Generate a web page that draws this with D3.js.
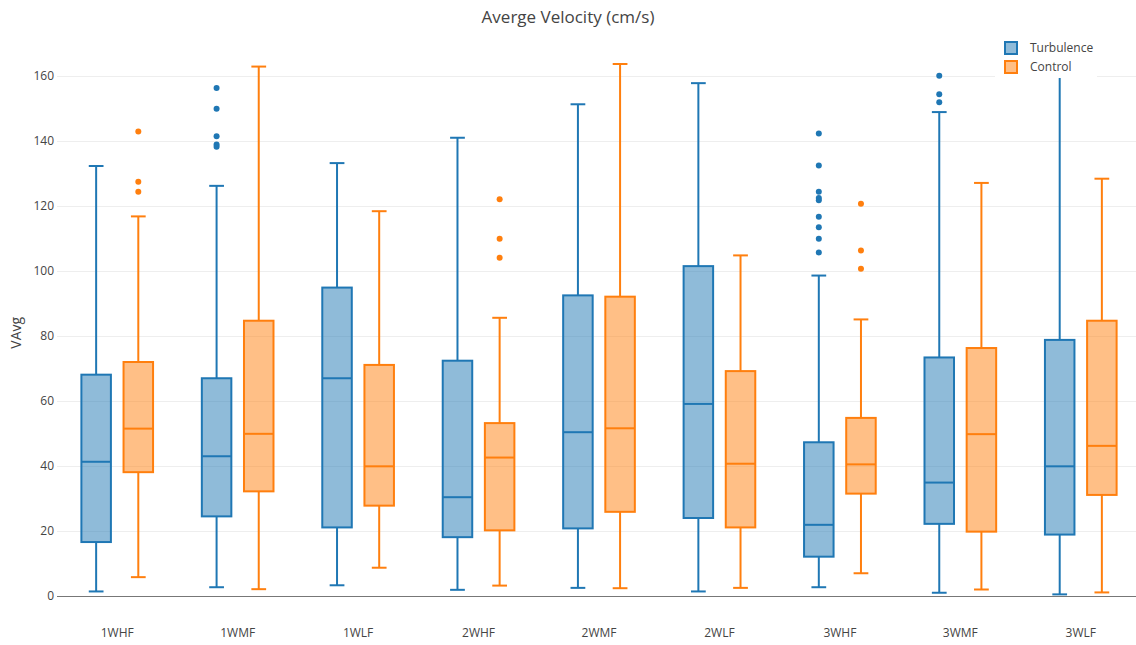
<!DOCTYPE html>
<html>
<head>
<meta charset="utf-8">
<script src="https://cdn.jsdelivr.net/npm/d3@7"></script>
<style>
  body { margin: 0; background: #fff; }
  svg { font-family: "Open Sans", sans-serif; }
</style>
</head>
<body>
<svg id="chart" width="1136" height="645"></svg>
<script>
var categories = ["1WHF", "1WMF", "1WLF", "2WHF", "2WMF", "2WLF", "3WHF", "3WMF", "3WLF"];
var series = ["Turbulence", "Control"];
var yTicks = [0, 20, 40, 60, 80, 100, 120, 140, 160];

// Turbulence box stats
var turbLow  = [1.4, 2.7, 3.3, 1.9, 2.5, 1.4, 2.7, 1.0, 0.5];
var turbQ1   = [16.6, 24.5, 21.1, 18.1, 20.8, 24.0, 12.1, 22.2, 18.9];
var turbMed  = [41.3, 43.0, 67.0, 30.4, 50.4, 59.1, 21.9, 34.9, 39.9];
var turbQ3   = [68.1, 67.0, 94.9, 72.4, 92.5, 101.5, 47.3, 73.4, 78.8];
var turbHigh = [132.3, 126.2, 133.2, 141.0, 151.3, 157.8, 98.6, 148.9, 166];
var turbOut  = [[], [156.3, 149.9, 141.5, 138.9, 138.2], [], [], [], [],
                [142.3, 132.5, 124.4, 122.5, 121.8, 116.7, 113.5, 109.9, 105.7],
                [160.1, 154.4, 151.9], []];

// Control box stats
var ctrlLow  = [5.8, 2.1, 8.7, 3.2, 2.4, 2.5, 7.0, 2.0, 1.1];
var ctrlQ1   = [38.1, 32.2, 27.8, 20.2, 25.9, 21.1, 31.5, 19.8, 31.1];
var ctrlMed  = [51.5, 49.9, 39.9, 42.6, 51.6, 40.7, 40.5, 49.8, 46.2];
var ctrlQ3   = [72.0, 84.7, 71.1, 53.2, 92.1, 69.2, 54.8, 76.3, 84.7];
var ctrlHigh = [116.8, 162.9, 118.4, 85.6, 163.7, 104.8, 85.1, 127.1, 128.4];
var ctrlOut  = [[142.9, 127.5, 124.4], [], [], [122.1, 109.9, 104.1], [], [],
                [120.7, 106.3, 100.7], [], []];

var colors = { Turbulence: "#1f77b4", Control: "#ff7f0e" };
var fills = { Turbulence: "rgba(31,119,180,0.5)", Control: "rgba(255,127,14,0.5)" };

var boxes = [];
categories.forEach(function(c, i) {
  boxes.push({cat: c, s: "Turbulence", low: turbLow[i], q1: turbQ1[i], med: turbMed[i], q3: turbQ3[i], high: turbHigh[i], out: turbOut[i]});
  boxes.push({cat: c, s: "Control", low: ctrlLow[i], q1: ctrlQ1[i], med: ctrlMed[i], q3: ctrlQ3[i], high: ctrlHigh[i], out: ctrlOut[i]});
});

var svg = d3.select("#chart");
var plotLeft = 57, plotRight = 1141, plotTop = 43.5, plotBottom = 622;

var x = d3.scaleBand().domain(categories).range([plotLeft, plotRight]);
var bw = x.bandwidth();
var xs = d3.scaleBand().domain(series).range([bw * 0.15, bw * 0.85]);
var boxW = xs.bandwidth() * 0.7;

var y = d3.scaleLinear().domain([-8, 170]).range([plotBottom, plotTop]);

// gridlines + y labels
var yAxis = svg.append("g")
  .attr("transform", "translate(" + plotLeft + ",0)")
  .call(d3.axisLeft(y).tickValues(yTicks).tickSize(-(1136 - plotLeft)).tickPadding(3));
yAxis.select(".domain").remove();
yAxis.selectAll(".tick line").attr("stroke", "#eee");
yAxis.selectAll(".tick text").attr("fill", "#444").attr("font-size", 12).attr("font-family", "Open Sans");
yAxis.selectAll(".tick").filter(function(d) { return d === 0; }).select("line").attr("stroke", "#777");

// x labels
var xAxis = svg.append("g")
  .attr("transform", "translate(0," + plotBottom + ")")
  .call(d3.axisBottom(x).tickSize(0).tickPadding(6));
xAxis.select(".domain").remove();
xAxis.selectAll(".tick text").attr("fill", "#444").attr("font-size", 12).attr("font-family", "Open Sans");

// boxes
var g = svg.append("g").selectAll("g").data(boxes).enter().append("g")
  .attr("transform", function(d) { return "translate(" + (x(d.cat) + xs(d.s) + xs.bandwidth() / 2) + ",0)"; });

g.append("line")
  .attr("x1", 0).attr("x2", 0)
  .attr("y1", function(d) { return y(d.high); })
  .attr("y2", function(d) { return y(d.q3); })
  .attr("stroke", function(d) { return colors[d.s]; }).attr("stroke-width", 2);
g.append("line")
  .attr("x1", 0).attr("x2", 0)
  .attr("y1", function(d) { return y(d.q1); })
  .attr("y2", function(d) { return y(d.low); })
  .attr("stroke", function(d) { return colors[d.s]; }).attr("stroke-width", 2);
g.append("line")
  .attr("x1", -boxW / 4).attr("x2", boxW / 4)
  .attr("y1", function(d) { return y(d.high); })
  .attr("y2", function(d) { return y(d.high); })
  .attr("stroke", function(d) { return colors[d.s]; }).attr("stroke-width", 2);
g.append("line")
  .attr("x1", -boxW / 4).attr("x2", boxW / 4)
  .attr("y1", function(d) { return y(d.low); })
  .attr("y2", function(d) { return y(d.low); })
  .attr("stroke", function(d) { return colors[d.s]; }).attr("stroke-width", 2);
g.append("rect")
  .attr("x", -boxW / 2).attr("width", boxW)
  .attr("y", function(d) { return y(d.q3); })
  .attr("height", function(d) { return y(d.q1) - y(d.q3); })
  .attr("fill", function(d) { return fills[d.s]; })
  .attr("stroke", function(d) { return colors[d.s]; }).attr("stroke-width", 2);
g.append("line")
  .attr("x1", -boxW / 2).attr("x2", boxW / 2)
  .attr("y1", function(d) { return y(d.med); })
  .attr("y2", function(d) { return y(d.med); })
  .attr("stroke", function(d) { return colors[d.s]; }).attr("stroke-width", 2);
g.selectAll("circle").data(function(d) { return d.out.map(function(v) { return {v: v, s: d.s}; }); })
  .enter().append("circle")
  .attr("cx", 0)
  .attr("cy", function(d) { return y(d.v); })
  .attr("r", 3)
  .attr("fill", function(d) { return colors[d.s]; });

// title
svg.append("text")
  .attr("x", 568).attr("y", 23)
  .attr("text-anchor", "middle")
  .attr("font-size", 17).attr("fill", "#444")
  .text("Averge Velocity (cm/s)");

// y title
svg.append("text")
  .attr("transform", "translate(21," + ((plotTop + plotBottom) / 2) + ") rotate(-90)")
  .attr("text-anchor", "middle")
  .attr("font-size", 14).attr("fill", "#444")
  .text("VAvg");

// legend
var legend = svg.append("g").attr("transform", "translate(995,35)");
legend.append("rect").attr("width", 102).attr("height", 43).attr("fill", "#fff");
var li = legend.selectAll("g").data(series).enter().append("g")
  .attr("transform", function(d, i) { return "translate(0," + (13 + i * 19) + ")"; });
li.append("rect")
  .attr("x", 10).attr("y", -6).attr("width", 12).attr("height", 12)
  .attr("fill", function(d) { return fills[d]; })
  .attr("stroke", function(d) { return colors[d]; }).attr("stroke-width", 2);
li.append("text")
  .attr("x", 35).attr("dy", "0.35em")
  .attr("font-size", 12).attr("fill", "#444")
  .text(function(d) { return d; });
</script>
</body>
</html>
